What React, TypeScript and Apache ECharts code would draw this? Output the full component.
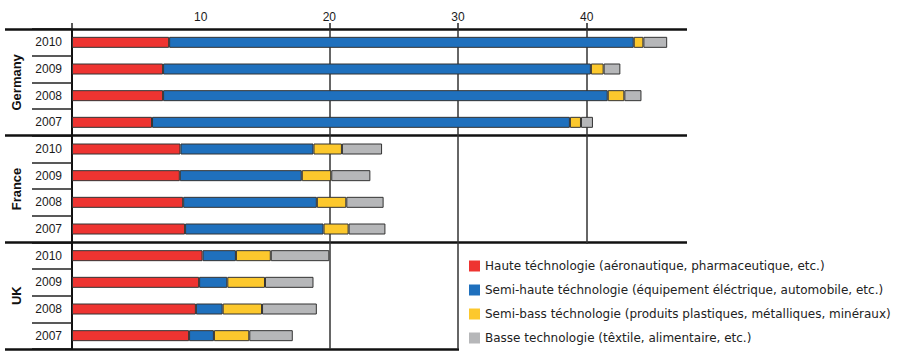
import React, { useEffect, useRef } from 'react';
import * as echarts from 'echarts';

const countries = ['Germany', 'France', 'UK'];
const years = ['2010', '2009', '2008', '2007'];
const xLabelValues = [10, 20, 30, 40];
const xGridValues = [0, 20, 30, 40];

const seriesNames = [
  'Haute téchnologie (aéronautique, pharmaceutique, etc.)',
  'Semi-haute téchnologie (équipement éléctrique, automobile, etc.)',
  'Semi-bass téchnologie (produits plastiques, métalliques, minéraux)',
  'Basse technologie (têxtile, alimentaire, etc.)',
];
const seriesColors = ['#ee3431', '#1f70bd', '#fcc82d', '#b6b7b9'];

// order: Germany 2010..2007, France 2010..2007, UK 2010..2007
const haute = [7.55, 7.08, 7.08, 6.22, 8.43, 8.38, 8.64, 8.79, 10.15, 9.88, 9.63, 9.1];
const semiHaute = [36.11, 33.25, 34.56, 32.48, 10.34, 9.48, 10.39, 10.76, 2.59, 2.19, 2.08, 1.93];
const semiBasse = [0.75, 0.99, 1.29, 0.86, 2.21, 2.29, 2.29, 1.95, 2.71, 2.93, 3.06, 2.75];
const basse = [1.85, 1.3, 1.33, 0.93, 3.12, 3.04, 2.9, 2.86, 4.55, 3.77, 4.26, 3.38];

export default function App() {
  const ref = useRef<HTMLDivElement>(null);
  useEffect(() => {
    document.body.style.margin = '0';
    const chart = echarts.init(ref.current!, null, { renderer: 'svg' });
    const categories = countries.flatMap((c) => years.map((y) => `${c}|${y}`));
    const values = [haute, semiHaute, semiBasse, basse];
    chart.setOption({
      animation: false,
      grid: { left: 72, right: 214, top: 29, bottom: 5 },
      xAxis: {
        type: 'value',
        position: 'top',
        min: 0,
        max: 47.8,
        axisLine: { show: false },
        axisTick: {
          show: true,
          customValues: xGridValues,
          length: 6,
          lineStyle: { color: '#222', width: 1.5 },
        },
        axisLabel: {
          customValues: xLabelValues,
          fontSize: 12,
          fontFamily: 'Liberation Sans',
          color: '#1a1a1a',
          margin: 6,
        },
        splitLine: { show: true, lineStyle: { color: '#333', width: 1.5 } },
      },
      yAxis: [
        {
          type: 'category',
          data: categories,
          inverse: true,
          position: 'left',
          axisLine: { show: true, lineStyle: { color: '#111', width: 2 } },
          axisTick: { show: true, interval: 0, length: 40, lineStyle: { color: '#222', width: 1.5 } },
          axisLabel: {
            interval: 0,
            formatter: (v: string) => v.split('|')[1],
            fontSize: 12,
            fontFamily: 'Liberation Sans',
            color: '#1a1a1a',
            margin: 10,
          },
          splitLine: { show: false },
        },
        {
          type: 'category',
          data: countries,
          inverse: true,
          position: 'left',
          offset: 0,
          axisLine: { show: false },
          axisTick: { show: true, interval: 0, length: 67, lineStyle: { color: '#111', width: 2.5 } },
          axisLabel: {
            interval: 0,
            rotate: 90,
            fontSize: 13,
            fontWeight: 'bold',
            fontFamily: 'Liberation Sans',
            color: '#111',
            margin: 49,
          },
          splitLine: { show: true, interval: 0, lineStyle: { color: '#111', width: 2.5 } },
        },
      ],
      legend: {
        data: seriesNames,
        orient: 'vertical',
        left: 459,
        top: 244,
        padding: [16, 2, 9, 10],
        itemWidth: 11,
        itemHeight: 11,
        itemGap: 12,
        icon: 'rect',
        selectedMode: false,
        backgroundColor: '#fff',
        itemStyle: { borderWidth: 0 },
        textStyle: { fontFamily: 'DejaVu Sans', fontSize: 12, lineHeight: 12, color: '#222' },
      },
      series: seriesNames.map((name, i) => ({
        name,
        type: 'bar',
        stack: 'total',
        yAxisIndex: 0,
        barWidth: 11,
        data: values[i],
        itemStyle: { color: seriesColors[i], borderColor: '#333', borderWidth: 1 },
      })),
    });
    return () => chart.dispose();
  }, []);
  return <div ref={ref} style={{ width: 901, height: 354 }} />;
}
